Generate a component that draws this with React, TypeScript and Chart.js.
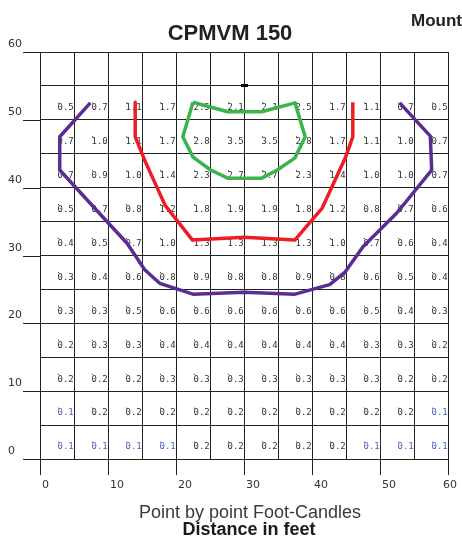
import React, { useEffect, useRef } from "react";
import { Chart, registerables } from "chart.js";
Chart.register(...registerables);

const xTickLabels = [0, 10, 20, 30, 40, 50, 60];
const yTickLabels = [0, 10, 20, 30, 40, 50, 60];
const pointX = [2.5, 7.5, 12.5, 17.5, 22.5, 27.5, 32.5, 37.5, 42.5, 47.5, 52.5, 57.5];
const pointY = [52.5, 47.5, 42.5, 37.5, 32.5, 27.5, 22.5, 17.5, 12.5, 7.5, 2.5];

const row1 = [0.5, 0.7, 1.1, 1.7, 2.5, 2.1, 2.1, 2.5, 1.7, 1.1, 0.7, 0.5];
const row2 = [0.7, 1.0, 1.1, 1.7, 2.8, 3.5, 3.5, 2.8, 1.7, 1.1, 1.0, 0.7];
const row3 = [0.7, 0.9, 1.0, 1.4, 2.3, 2.7, 2.7, 2.3, 1.4, 1.0, 1.0, 0.7];
const row4 = [0.5, 0.7, 0.8, 1.2, 1.8, 1.9, 1.9, 1.8, 1.2, 0.8, 0.7, 0.6];
const row5 = [0.4, 0.5, 0.7, 1.0, 1.3, 1.3, 1.3, 1.3, 1.0, 0.7, 0.6, 0.4];
const row6 = [0.3, 0.4, 0.6, 0.8, 0.9, 0.8, 0.8, 0.9, 0.8, 0.6, 0.5, 0.4];
const row7 = [0.3, 0.3, 0.5, 0.6, 0.6, 0.6, 0.6, 0.6, 0.6, 0.5, 0.4, 0.3];
const row8 = [0.2, 0.3, 0.3, 0.4, 0.4, 0.4, 0.4, 0.4, 0.4, 0.3, 0.3, 0.2];
const row9 = [0.2, 0.2, 0.2, 0.3, 0.3, 0.3, 0.3, 0.3, 0.3, 0.3, 0.2, 0.2];
const row10 = [0.1, 0.2, 0.2, 0.2, 0.2, 0.2, 0.2, 0.2, 0.2, 0.2, 0.2, 0.1];
const row11 = [0.1, 0.1, 0.1, 0.1, 0.2, 0.2, 0.2, 0.2, 0.2, 0.1, 0.1, 0.1];
const valueRows = [row1, row2, row3, row4, row5, row6, row7, row8, row9, row10, row11];

const purpleX = [7.4, 2.9, 2.9, 9.3, 12.8, 15.4, 17.6, 22.5, 30.0, 37.5, 42.6, 44.9, 47.5, 52.5, 57.6, 57.4, 52.9];
const purpleY = [52.5, 47.5, 42.6, 35.6, 31.8, 27.9, 25.9, 24.3, 24.6, 24.3, 25.7, 27.6, 31.3, 36.3, 42.6, 47.6, 52.5];
const redX = [14.0, 14.0, 15.5, 18.4, 22.4, 30.0, 37.5, 41.5, 44.9, 46.0, 46.0];
const redY = [52.6, 47.5, 43.8, 37.4, 32.3, 32.7, 32.3, 37.0, 44.4, 47.5, 52.6];
const greenX = [22.5, 27.6, 32.6, 37.5, 39.0, 37.5, 34.9, 32.6, 27.6, 25.1, 22.5, 21.0, 22.5];
const greenY = [52.6, 51.2, 51.2, 52.5, 47.5, 44.4, 42.6, 41.4, 41.4, 42.6, 44.5, 47.5, 52.6];
const luminaireX = [30];
const luminaireY = [55];

const TITLE = "CPMVM 150";
const SUBTITLE = "Mounting Height";
const CAPTION = "Point by point Foot-Candles";
const AXIS_TITLE = "Distance in feet";

const zip = (xs: number[], ys: number[]) => xs.map((x, i) => ({ x, y: ys[i] }));

export default function App() {
  const ref = useRef<HTMLCanvasElement>(null);
  useEffect(() => {
    const cv = ref.current!;
    const marker = document.createElement("canvas");
    marker.width = 7;
    marker.height = 3;
    const mctx = marker.getContext("2d")!;
    mctx.fillStyle = "#000";
    mctx.fillRect(0, 0, 7, 3);

    const valuesPlugin = {
      id: "fcValues",
      beforeDatasetsDraw(chart: any) {
        const { ctx, scales } = chart;
        const xs = scales.x, ys = scales.y;
        ctx.save();
        ctx.font = '9px "DejaVu Sans Mono"';
        ctx.textAlign = "left";
        ctx.textBaseline = "middle";
        valueRows.forEach((row, j) => {
          row.forEach((v, i) => {
            const px = xs.getPixelForValue(pointX[i]);
            const py = ys.getPixelForValue(pointY[j]);
            ctx.fillStyle = v <= 0.1 ? "#4a5fbf" : "#333";
            ctx.fillText(v.toFixed(1), px + 0.5, py + 5);
            ctx.fillRect(px + 1, py - 0.5, 1, 1);
          });
        });
        ctx.restore();
      },
    };

    const framePlugin = {
      id: "frame",
      afterDraw(chart: any) {
        const { ctx, scales, chartArea, width } = chart;
        const xs = scales.x, ys = scales.y;
        ctx.save();
        ctx.strokeStyle = "#222";
        ctx.lineWidth = 1;
        ctx.fillStyle = "#333";
        ctx.font = '11px "DejaVu Sans"';
        ctx.textBaseline = "middle";
        ctx.textAlign = "left";
        yTickLabels.forEach((v) => {
          const py = Math.round(ys.getPixelForValue(v)) + 0.5;
          ctx.beginPath();
          ctx.moveTo(chartArea.left - 17, py);
          ctx.lineTo(chartArea.left, py);
          ctx.stroke();
          ctx.fillText(String(v), 8, py - 8.5);
        });
        xTickLabels.forEach((v) => {
          const px = Math.round(xs.getPixelForValue(v)) + 0.5;
          ctx.beginPath();
          ctx.moveTo(px, chartArea.bottom);
          ctx.lineTo(px, chartArea.bottom + 16);
          ctx.stroke();
          const label = String(v);
          const w = ctx.measureText(label).width;
          const lx = Math.min(px + 1.5, width - 5 - w);
          ctx.fillText(label, lx, chartArea.bottom + 26);
        });
        ctx.fillStyle = "#222";
        ctx.textAlign = "center";
        ctx.font = 'bold 22px "Liberation Sans"';
        ctx.fillText(TITLE, 230, 34);
        ctx.textAlign = "left";
        ctx.font = 'bold 17px "Liberation Sans"';
        ctx.fillText(SUBTITLE, 411, 21);
        ctx.textAlign = "center";
        ctx.fillStyle = "#3a3a3a";
        ctx.font = '18px "Liberation Sans"';
        ctx.fillText(CAPTION, 250, 513);
        ctx.fillStyle = "#1a1a1a";
        ctx.font = 'bold 18px "Liberation Sans"';
        ctx.fillText(AXIS_TITLE, 249, 530);
        ctx.restore();
      },
    };

    const lineDs = (xs: number[], ys: number[], color: string) => ({
      type: "line" as const,
      data: zip(xs, ys),
      borderColor: color,
      backgroundColor: color,
      borderWidth: 3.5,
      pointRadius: 0,
      showLine: true,
      fill: false,
      tension: 0,
      borderJoinStyle: "round" as const,
    });

    const chart = new Chart(cv, {
      type: "scatter",
      data: {
        datasets: [
          lineDs(purpleX, purpleY, "#5b2d92"),
          lineDs(redX, redY, "#ee1c24"),
          lineDs(greenX, greenY, "#3cb44a"),
          {
            type: "scatter",
            data: zip(luminaireX, luminaireY),
            pointStyle: marker,
            pointRadius: 3,
          } as any,
        ],
      },
      options: {
        animation: false,
        responsive: false,
        layout: { padding: { left: 40, top: 52, right: 14, bottom: 79 } },
        plugins: { legend: { display: false }, tooltip: { enabled: false }, title: { display: false } },
        scales: {
          x: {
            type: "linear",
            min: 0,
            max: 60,
            ticks: { display: false, stepSize: 5 },
            grid: { color: "#222", lineWidth: 1, drawTicks: false },
            border: { color: "#222" },
          },
          y: {
            type: "linear",
            min: 0,
            max: 60,
            ticks: { display: false, stepSize: 5 },
            grid: { color: "#222", lineWidth: 1, drawTicks: false },
            border: { color: "#222" },
          },
        },
      },
      plugins: [valuesPlugin, framePlugin],
    });
    return () => chart.destroy();
  }, []);
  return (
    <div style={{ position: "fixed", left: 0, top: 0, width: 462, height: 538, background: "#fff" }}>
      <canvas ref={ref} width={462} height={538} style={{ display: "block" }} />
    </div>
  );
}
